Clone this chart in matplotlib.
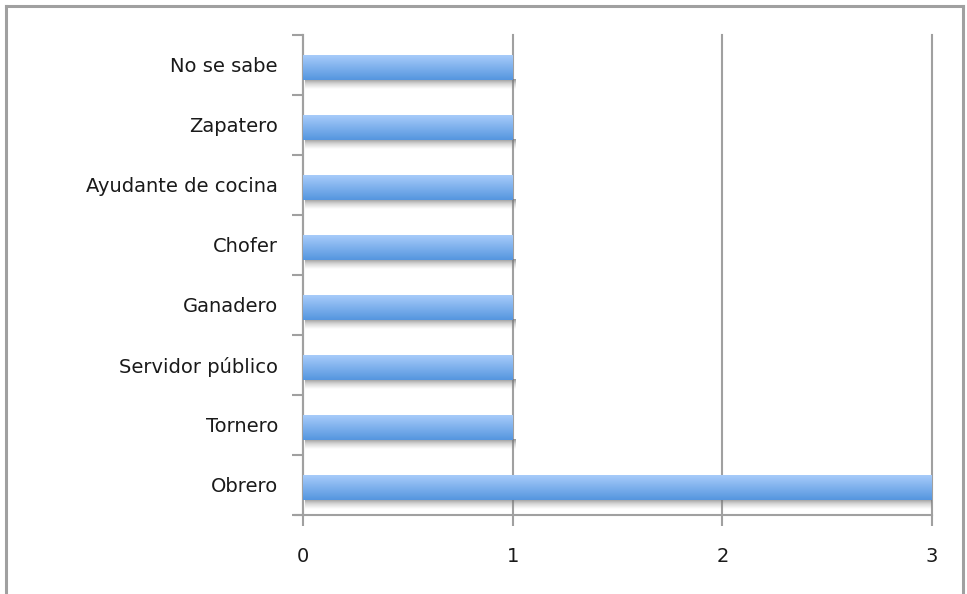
import numpy as np
import matplotlib
matplotlib.use("Agg")
import matplotlib.pyplot as plt
from matplotlib.patches import Rectangle
from matplotlib.colors import LinearSegmentedColormap
from matplotlib.lines import Line2D

categories = ["Obrero", "Tornero", "Servidor público", "Ganadero", "Chofer",
              "Ayudante de cocina", "Zapatero", "No se sabe"]
values = [3, 1, 1, 1, 1, 1, 1, 1]
xticks = [0, 1, 2, 3]

plt.rcParams["font.family"] = ["DejaVu Sans"]

fig = plt.figure(figsize=(9.67, 5.94), dpi=100)
ax = fig.add_axes([303 / 967, 1 - 515 / 594, (932 - 303) / 967, (515 - 35) / 594])

grey = "#a0a0a0"
bar_h = 0.42
y = np.arange(len(categories))

# vertical gradient: light on top, deeper blue at the bottom
cmap = LinearSegmentedColormap.from_list("bar", ["#5596df", "#aacdfb"])
grad = np.linspace(0, 1, 64).reshape(-1, 1)
# drop shadow: darkest right under the bar, fading downward
shade = LinearSegmentedColormap.from_list(
    "shade", [(0.5, 0.5, 0.5, 0.0), (0.5, 0.5, 0.5, 0.3), (0.42, 0.42, 0.42, 0.7)])

bars = ax.barh(y - 0.035, values, height=bar_h, color="none", zorder=3)
for b in bars:
    x0, y0 = b.get_x(), b.get_y()
    w, h = b.get_width(), b.get_height()
    ax.imshow(grad, cmap=shade, aspect="auto", origin="lower",
              extent=[x0 + 0.01, x0 + w + 0.012, y0 - 0.16, y0], zorder=2,
              interpolation="bilinear")
    im = ax.imshow(grad, cmap=cmap, aspect="auto", origin="lower",
                   extent=[x0, x0 + w, y0, y0 + h], zorder=4,
                   interpolation="bilinear")
    clip = Rectangle((x0, y0), w, h, transform=ax.transData)
    im.set_clip_path(clip)

ax.set_xlim(0, 3)
ax.set_ylim(-0.5, len(categories) - 0.5)
ax.set_xticks(xticks)
ax.set_xticklabels([str(t) for t in xticks])
ax.set_yticks(y)
ax.set_yticklabels(categories)
ax.set_yticks(np.arange(-0.5, len(categories), 1.0), minor=True)

ax.tick_params(axis="y", which="major", length=0, pad=18, labelsize=14, labelcolor="#1a1a1a")
ax.tick_params(axis="y", which="minor", length=8, width=1.5, color=grey)
ax.tick_params(axis="x", which="major", length=8, width=1.5, color=grey, pad=15,
               labelsize=14, labelcolor="#1a1a1a")

ax.xaxis.grid(True, color=grey, linewidth=1.5, zorder=1)
for gl in ax.get_xgridlines():
    gl.set_clip_on(False)
ax.set_axisbelow(True)
for s in ["top", "right"]:
    ax.spines[s].set_visible(False)
for s in ["left", "bottom"]:
    ax.spines[s].set_color(grey)
    ax.spines[s].set_linewidth(1.5)

# bottom axis line continues left to the outermost tick
ax.add_line(Line2D([-8 / 629 * 3, 0], [-0.5, -0.5], color=grey, linewidth=1.5,
                   clip_on=False, zorder=5))

# outer chart frame
fx = lambda px: px / 967
fy = lambda py: 1 - py / 594
for xs, ys in [([6, 963], [6, 6]), ([6, 6], [6, 594]), ([963, 963], [6, 594])]:
    fig.add_artist(Line2D([fx(v) for v in xs], [fy(v) for v in ys],
                          color=grey, linewidth=2.2, transform=fig.transFigure))

fig.savefig("out.png", dpi=100, facecolor="white")
